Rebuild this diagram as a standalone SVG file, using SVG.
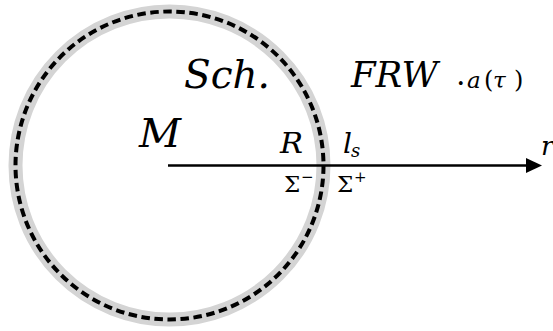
<svg xmlns="http://www.w3.org/2000/svg" width="553" height="331" viewBox="0 0 553 331">
  <defs>
    <style>
      text { font-family: 'DejaVu Serif', serif; fill: #000; }
      .m { font-style: italic; }
    </style>
    <marker id="ah" markerWidth="16" markerHeight="15" refX="0" refY="7.5" orient="auto" markerUnits="userSpaceOnUse">
      <path d="M0,0 L16,7.5 L0,15 Z" fill="#000"/>
    </marker>
  </defs>
  <rect width="553" height="331" fill="#fff"/>
  <g id="shell">
    <circle cx="169.5" cy="165.5" r="154" fill="none" stroke="#d4d4d4" stroke-width="14"/>
    <circle cx="169.5" cy="165.5" r="154" fill="none" stroke="#000" stroke-width="4" stroke-dasharray="8.5 4.576"/>
  </g>
  <g id="connectors">
    <line x1="168" y1="165.5" x2="526" y2="165.5" stroke="#000" stroke-width="2.6" marker-end="url(#ah)"/>
  </g>
  <g id="labels">
    <text class="m" x="184" y="88" font-size="40" textLength="86" lengthAdjust="spacingAndGlyphs">Sch.</text>
    <text class="m" x="351" y="87" font-size="35" textLength="87" lengthAdjust="spacingAndGlyphs">FRW</text>
    <text x="456" y="85" font-size="30">.</text>
    <text class="m" x="467" y="88" font-size="23">a</text>
    <text x="484" y="88" font-size="24">(</text>
    <text class="m" x="493" y="88" font-size="23">τ</text>
    <text x="514" y="88" font-size="24">)</text>
    <text class="m" x="139" y="147" font-size="39" textLength="42" lengthAdjust="spacingAndGlyphs">M</text>
    <text class="m" x="280" y="153" font-size="28" textLength="23" lengthAdjust="spacingAndGlyphs">R</text>
    <text class="m" x="343" y="153" font-size="28">l</text>
    <text class="m" x="351" y="157" font-size="18">s</text>
    <text x="284" y="191.5" font-size="23">Σ</text>
    <text x="301" y="182" font-size="15">−</text>
    <text x="337" y="191.5" font-size="23">Σ</text>
    <text x="354" y="182" font-size="15">+</text>
    <text class="m" x="541" y="155" font-size="26">r</text>
  </g>
</svg>
